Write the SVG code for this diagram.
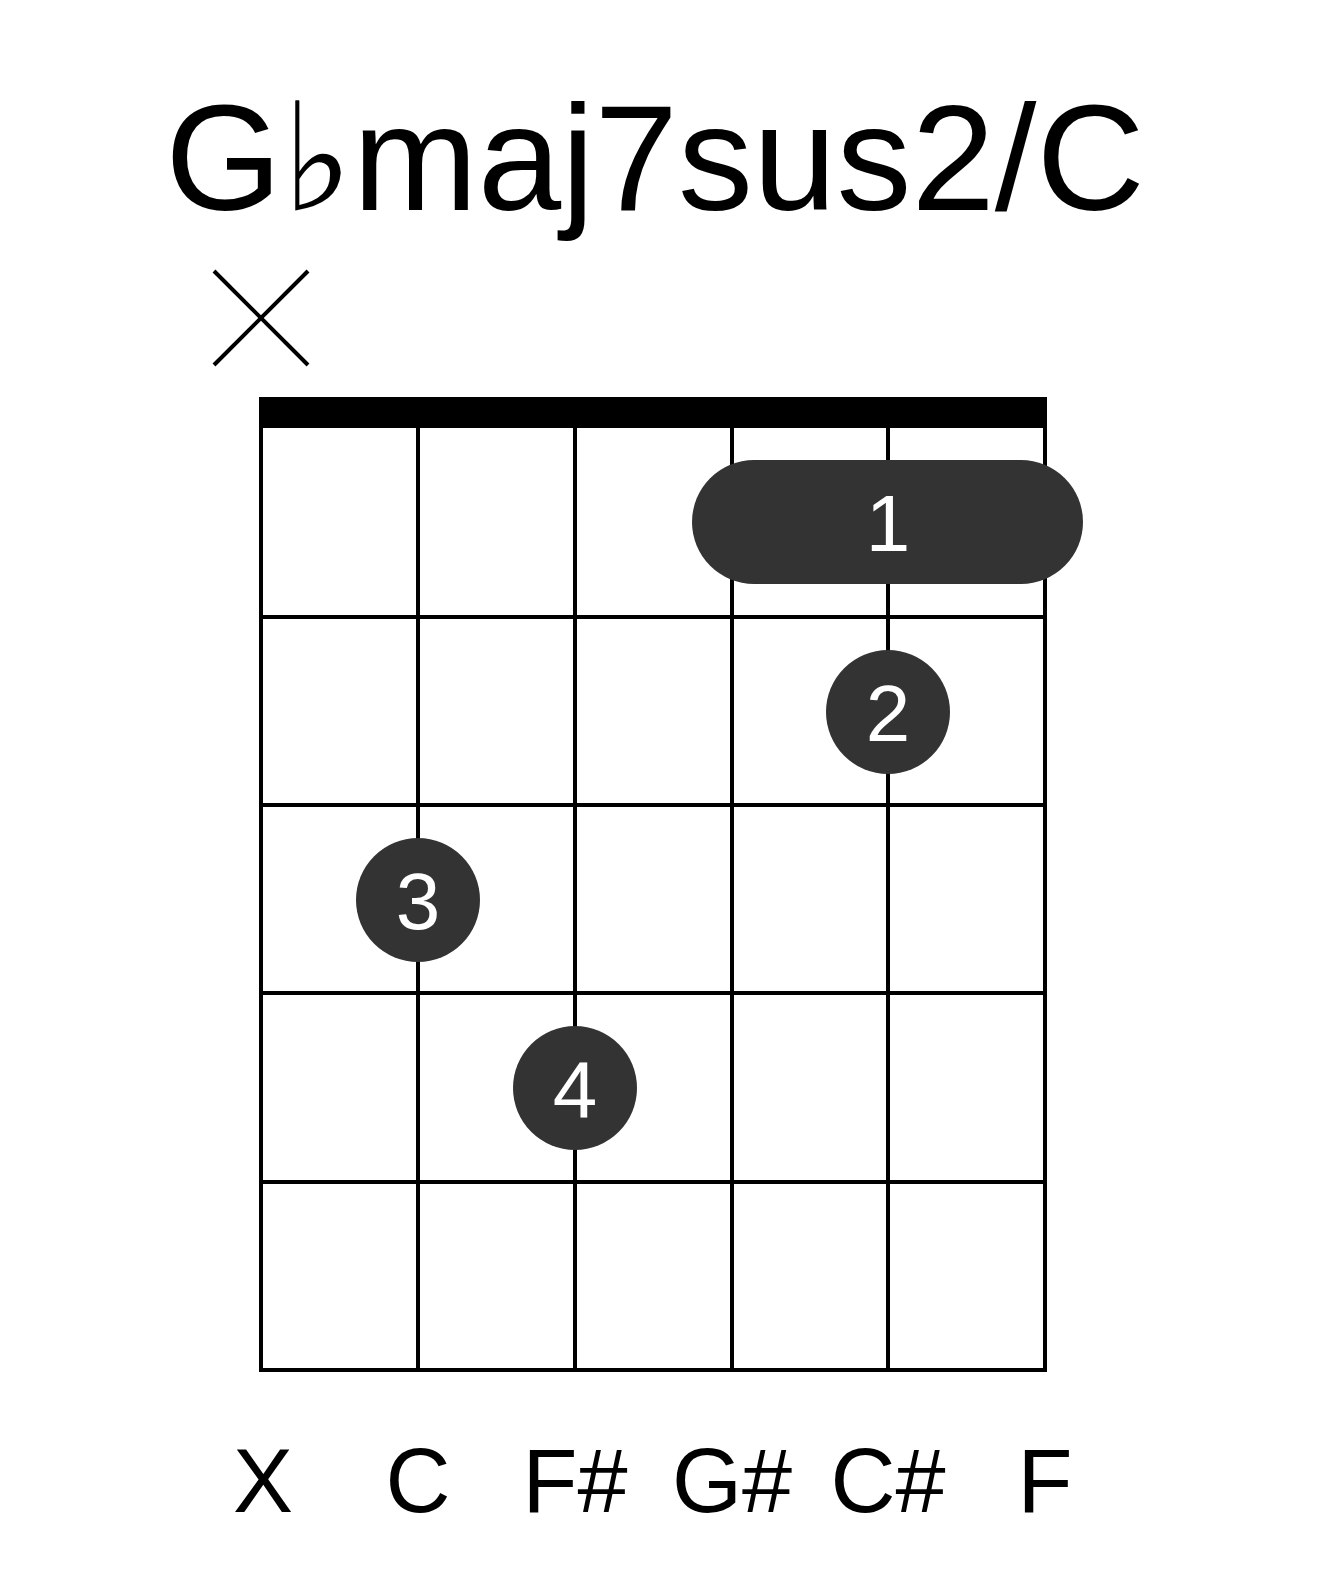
<svg xmlns="http://www.w3.org/2000/svg" width="1317" height="1581" viewBox="0 0 1317 1581">
<style>
.t{font-family:"Liberation Sans",Arial,sans-serif;text-anchor:middle}
.g{stroke:#000;stroke-width:4;fill:none}
.d{fill:#333}
.n{font-family:"Liberation Sans",Arial,sans-serif;text-anchor:middle;fill:#fff;font-size:80px}
</style>
<rect width="1317" height="1581" fill="#fff"/>
<text class="t" x="655" y="210" font-size="150">G♭maj7sus2/C</text>
<g class="g"><line x1="214" y1="271" x2="308" y2="365"/><line x1="308" y1="271" x2="214" y2="365"/></g>
<rect x="259" y="397" width="788" height="31" fill="#000"/>
<g class="g">
<rect x="261" y="420" width="784" height="950"/>
<line x1="418" y1="420" x2="418" y2="1370"/><line x1="575" y1="420" x2="575" y2="1370"/><line x1="732" y1="420" x2="732" y2="1370"/><line x1="888" y1="420" x2="888" y2="1370"/>
<line x1="261" y1="617" x2="1045" y2="617"/><line x1="261" y1="805" x2="1045" y2="805"/><line x1="261" y1="993" x2="1045" y2="993"/><line x1="261" y1="1182" x2="1045" y2="1182"/>
</g>
<g id="barre"><rect class="d" x="692" y="460" width="391" height="124" rx="62"/><text class="n" x="888" y="551">1</text></g>
<g id="f2"><circle class="d" cx="888" cy="712" r="62"/><text class="n" x="888" y="741">2</text></g>
<g id="f3"><circle class="d" cx="418" cy="900" r="62"/><text class="n" x="418" y="929">3</text></g>
<g id="f4"><circle class="d" cx="575" cy="1088" r="62"/><text class="n" x="575" y="1117">4</text></g>
<g class="t" font-size="90">
<text x="263" y="1512">X</text><text x="418" y="1512">C</text><text x="575" y="1512">F#</text><text x="732" y="1512">G#</text><text x="888" y="1512">C#</text><text x="1045" y="1512">F</text>
</g>
</svg>
